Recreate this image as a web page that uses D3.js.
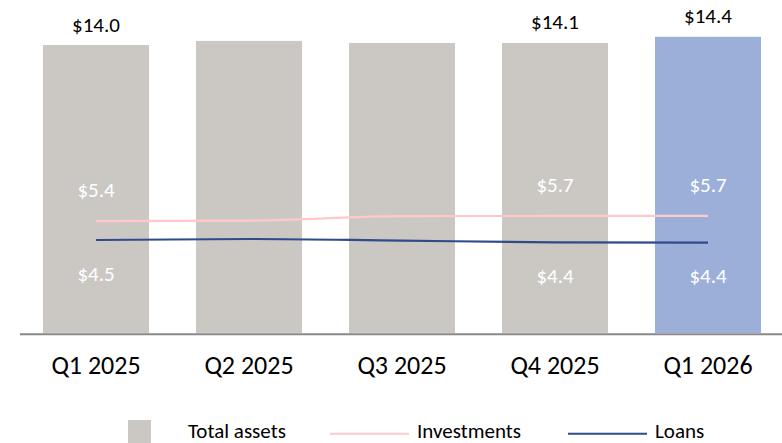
<!DOCTYPE html>
<html>
<head>
<meta charset="utf-8">
<script src="https://cdn.jsdelivr.net/npm/d3@7"></script>
<style>
  body { margin: 0; background: #fff; }
  svg { display: block; font-family: Carlito, Calibri, "Open Sans", sans-serif; }
</style>
</head>
<body>
<div id="chart"></div>
<script>
const QUARTERS = ["Q1 2025", "Q2 2025", "Q3 2025", "Q4 2025", "Q1 2026"];
const TOTAL_ASSETS = [14.0, 14.2, 14.1, 14.1, 14.4];
const INVESTMENTS = [5.44, 5.46, 5.68, 5.69, 5.69];
const LOANS = [4.52, 4.57, 4.49, 4.41, 4.39];
const LABELED = ["Q1 2025", "Q4 2025", "Q1 2026"];
const HIGHLIGHT = "Q1 2026";

const width = 782, height = 443;
const baseY = 333;

const fmt = v => "$" + d3.format(".1f")(v);

const svg = d3.select("#chart")
    .append("svg")
    .attr("width", width)
    .attr("height", height);

const x = d3.scaleBand()
    .domain(QUARTERS)
    .range([19.5, 784.5])
    .paddingInner(0.307)
    .paddingOuter(0.1535);

const y = d3.scaleLinear()
    .domain([0, 16])
    .range([baseY, baseY - 16 * 20.57]);

const rows = QUARTERS.map((q, i) => ({
    q, total: TOTAL_ASSETS[i], inv: INVESTMENTS[i], loan: LOANS[i]
}));

// bars
svg.selectAll(".bar")
    .data(rows)
    .enter()
    .append("rect")
    .attr("class", "bar")
    .attr("x", d => x(d.q))
    .attr("width", x.bandwidth())
    .attr("y", d => y(d.total))
    .attr("height", d => baseY - y(d.total))
    .attr("fill", d => d.q === HIGHLIGHT ? "#9BAFD9" : "#CBC8C4");

// x axis
const xAxis = svg.append("g")
    .attr("transform", `translate(0,${baseY + 1.3})`)
    .call(d3.axisBottom(x).tickSize(0).tickSizeOuter(0));
xAxis.select(".domain")
    .attr("d", `M20,0H${width}`)
    .attr("stroke", "#898989")
    .attr("stroke-width", 2);
xAxis.selectAll(".tick text")
    .attr("y", 0)
    .attr("dy", 39.5)
    .style("font-size", "26px")
    .style("font-family", "Carlito, Calibri, 'Open Sans', sans-serif")
    .attr("fill", "#000");

// lines
const cx = q => x(q) + x.bandwidth() / 2;
const lineGen = key => d3.line()
    .x(d => cx(d.q))
    .y(d => y(d[key]))
    .curve(d3.curveMonotoneX);

svg.append("path")
    .datum(rows)
    .attr("d", lineGen("inv"))
    .attr("fill", "none")
    .attr("stroke", "#FFC9C9")
    .attr("stroke-width", 2.2);

svg.append("path")
    .datum(rows)
    .attr("d", lineGen("loan"))
    .attr("fill", "none")
    .attr("stroke", "#2F4B8C")
    .attr("stroke-width", 2.2);

const labeled = rows.filter(d => LABELED.includes(d.q));

// value labels
svg.selectAll(".total-label")
    .data(labeled)
    .enter()
    .append("text")
    .attr("x", d => cx(d.q))
    .attr("y", d => y(d.total) - 13.5)
    .attr("text-anchor", "middle")
    .style("font-size", "21px")
    .attr("fill", "#000")
    .text(d => fmt(d.total));

svg.selectAll(".inv-label")
    .data(labeled)
    .enter()
    .append("text")
    .attr("x", d => cx(d.q))
    .attr("y", d => y(d.inv) - 24)
    .attr("text-anchor", "middle")
    .style("font-size", "21px")
    .attr("fill", "#fff")
    .text(d => fmt(d.inv));

svg.selectAll(".loan-label")
    .data(labeled)
    .enter()
    .append("text")
    .attr("x", d => cx(d.q))
    .attr("y", d => y(d.loan) + 40.5)
    .attr("text-anchor", "middle")
    .style("font-size", "21px")
    .attr("fill", "#fff")
    .text(d => fmt(d.loan));

// legend
const legend = svg.append("g");

legend.append("rect")
    .attr("x", 128).attr("y", 420)
    .attr("width", 23).attr("height", 23)
    .attr("fill", "#CBC8C4");
legend.append("text")
    .attr("x", 188).attr("y", 437.5)
    .style("font-size", "21px")
    .text("Total assets");

legend.append("line")
    .attr("x1", 330).attr("x2", 409)
    .attr("y1", 433.7).attr("y2", 433.7)
    .attr("stroke", "#FFC9C9").attr("stroke-width", 2);
legend.append("text")
    .attr("x", 417).attr("y", 437.5)
    .style("font-size", "21px")
    .text("Investments");

legend.append("line")
    .attr("x1", 568).attr("x2", 647)
    .attr("y1", 433.7).attr("y2", 433.7)
    .attr("stroke", "#2F4B8C").attr("stroke-width", 2);
legend.append("text")
    .attr("x", 655).attr("y", 437.5)
    .style("font-size", "21px")
    .text("Loans");
</script>
</body>
</html>
